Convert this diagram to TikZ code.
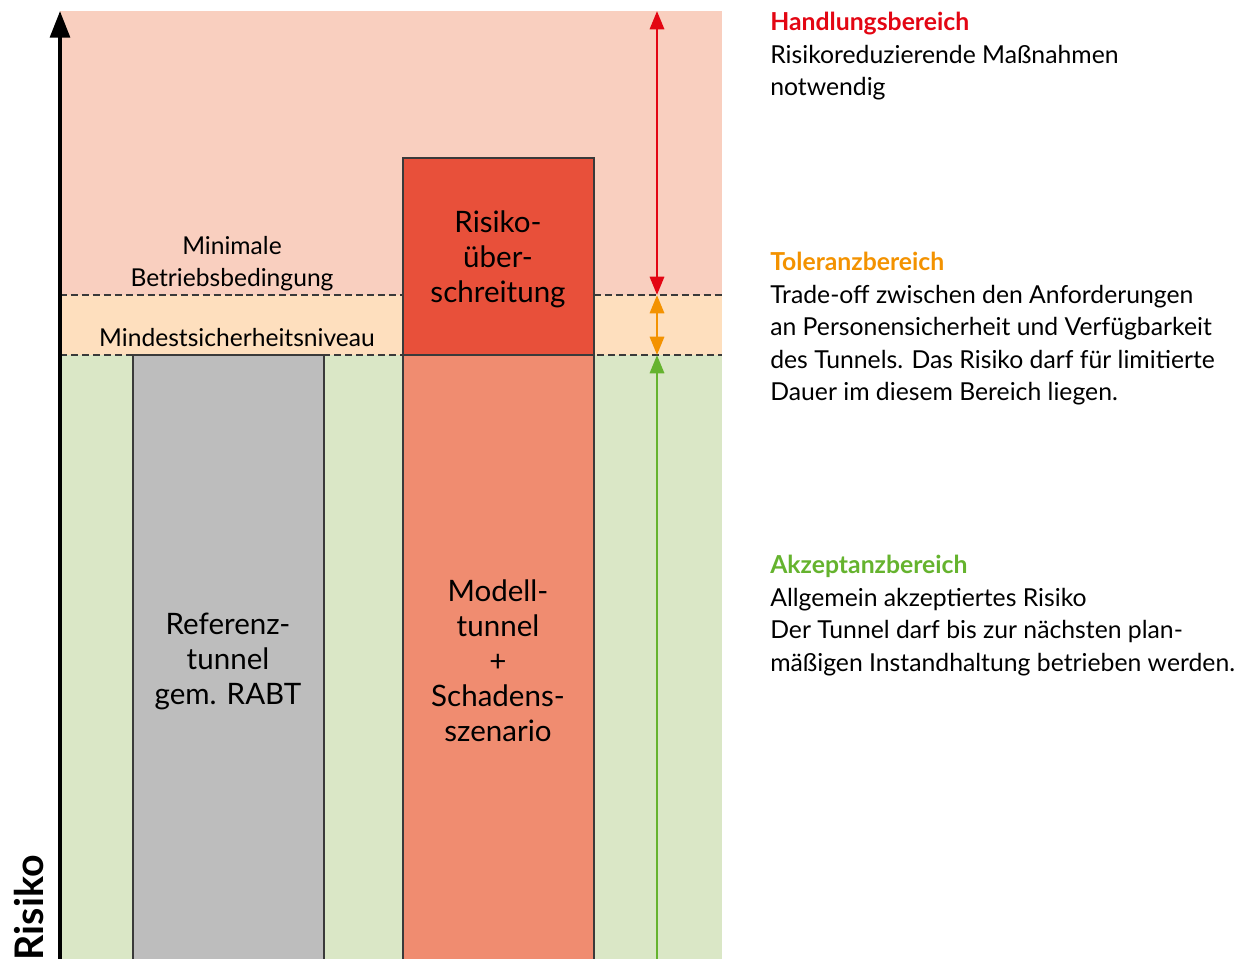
\documentclass[tikz,border=0pt]{standalone}
\usepackage{fontspec}
\setmainfont{Lato}
\usetikzlibrary{arrows.meta}

\begin{document}
\begin{tikzpicture}[x=0.025cm,y=-0.025cm,>={Triangle[length=13pt,width=10pt]}]

\definecolor{bgred}{HTML}{F9CFBF}
\definecolor{bgorange}{HTML}{FEDFBE}
\definecolor{bggreen}{HTML}{DAE7C6}
\definecolor{barred}{HTML}{E8503A}
\definecolor{barsalmon}{HTML}{F08C70}
\definecolor{bargray}{HTML}{BDBDBD}
\definecolor{lred}{HTML}{E30613}
\definecolor{lorange}{HTML}{F39200}
\definecolor{lgreen}{HTML}{65B32E}
\definecolor{lline}{HTML}{3A3A3A}

\tikzset{
  bar/.style={draw=lline,line width=1pt},
  barlabel/.style={align=center,font=\fontsize{21}{24.9}\selectfont},
  levellabel/.style={align=center,inner sep=0pt,font=\fontsize{17.5}{22.6}\selectfont},
  sidetext/.style={align=left,anchor=north west,inner sep=0pt,font=\fontsize{17.6}{23.1}\selectfont},
  levelline/.style={draw=lline,line width=1pt,dash pattern=on 5pt off 2.8pt},
  rangearrow/.style={line width=2.1pt}
}

\useasboundingbox (0,0) rectangle (1239,959);

% levels
\coordinate (top) at (60,11);
\coordinate (mbb) at (60,295);
\coordinate (msn) at (60,355);
\coordinate (bot) at (722,959);

\fill[bgred] (top) rectangle (722,295);
\fill[bgorange] (mbb) rectangle (722,355);
\fill[bggreen] (msn) rectangle (bot);

% bars
\draw[bar,fill=bargray] (133,355) rectangle (324,965);
\draw[bar,fill=barsalmon] (403,355) rectangle (594,965);
\draw[bar,fill=barred] (403,158) rectangle (594,355);

\draw[levelline] (mbb) -- (403,295);
\draw[levelline] (594,295) -- (722,295);
\draw[levelline] (msn) -- (722,355);

\node[barlabel] (rue) at (498,259) {Risiko-\\über-\\schreitung};
\node[barlabel] (ref) at (228,661) {Referenz-\\tunnel\\gem. RABT};
\node[barlabel] (mod) at (498,661) {Modell-\\tunnel\\+\\Schadens-\\szenario};

\node[levellabel,anchor=south] (minb) at (232,291) {Minimale\\Betriebsbedingung};
\node[levellabel,anchor=base] (mind) at (237,346) {Mindestsicherheitsniveau};

% axis
\coordinate (ax0) at (60,965);
\coordinate (ax1) at (top);
\draw[line width=2.85pt,-{Triangle[length=19pt,width=14pt]}] (ax0) -- (ax1);
\node[rotate=90,anchor=base east,inner sep=0pt,font=\bfseries\fontsize{28}{28}\selectfont] (risk) at (43,855) {Risiko};

% ranges
\coordinate (r1) at (657,11);
\coordinate (r2) at (657,295);
\coordinate (r3) at (657,355);
\coordinate (r4) at (657,965);
\draw[rangearrow,lred,<->] (r2) -- (r1);
\draw[rangearrow,lorange,<->] (r2) -- (r3);
\draw[rangearrow,lgreen,->] (r4) -- (r3);

\node[sidetext] (hb) at (770,12) {{\bfseries\color{lred}Handlungsbereich}\\Risikoreduzierende Maßnahmen\\notwendig};
\node[sidetext] (tb) at (770,252) {{\bfseries\color{lorange}Toleranzbereich}\\Trade-off zwischen den Anforderungen\\an Personensicherheit und Verfügbarkeit\\des Tunnels. Das Risiko darf für limitierte\\Dauer im diesem Bereich liegen.};
\node[sidetext] (ab) at (770,555) {{\bfseries\color{lgreen}Akzeptanzbereich}\\Allgemein akzeptiertes Risiko\\Der Tunnel darf bis zur nächsten plan-\\mäßigen Instandhaltung betrieben werden.};

\end{tikzpicture}
\end{document}
